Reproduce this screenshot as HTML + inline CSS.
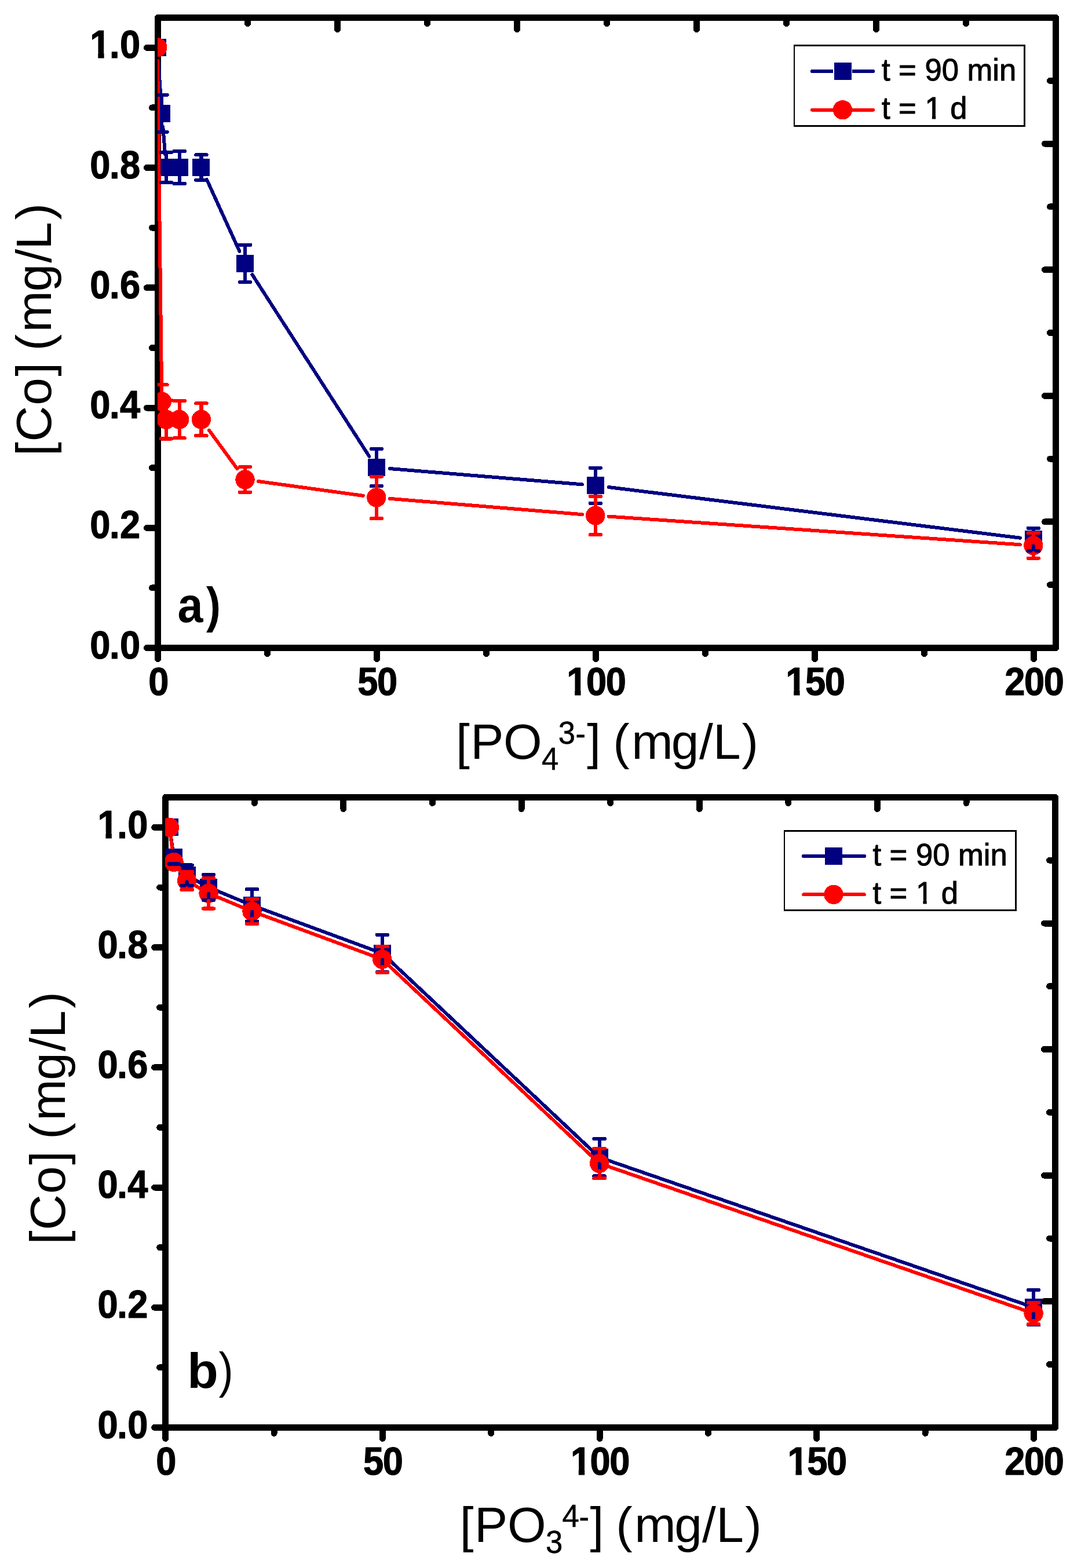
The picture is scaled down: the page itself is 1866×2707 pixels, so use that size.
<!DOCTYPE html>
<html lang="en"><head><meta charset="utf-8"><title>[Co] vs phosphate concentration</title>
<style>html,body{margin:0;padding:0;background:#fff}body{width:1866px;height:2707px;overflow:hidden}svg{display:block}text{white-space:pre}</style>
</head><body>
<svg width="1866" height="2707" viewBox="0 0 1866 2707">
<rect width="1866" height="2707" fill="#fff"/>
<defs>
<clipPath id="one-bold"><rect x="-6.8" y="-68" width="68" height="58.86"/><rect x="14.97" y="-9.74" width="11.13" height="11.34"/></clipPath>
<clipPath id="one-reg"><rect x="-5.26" y="-52.6" width="52.6" height="46.57"/><rect x="12.43" y="-6.63" width="6.25" height="8.13"/></clipPath>
</defs>
<g id="chart-a">
<g fill="none" stroke="#000" stroke-width="11" stroke-linecap="round" stroke-linejoin="round" shape-rendering="crispEdges">
<rect x="272.5" y="30.5" width="1550" height="1088"/>
<path d="M272.5 1118.5v19M650.5 1118.5v19M1028.5 1118.5v19M1406.5 1118.5v19M1784.5 1118.5v19M461.5 1118.5v10M839.5 1118.5v10M1217.5 1118.5v10M1595.5 1118.5v10M272.5 1118.5h-19M272.5 1014.88h-10M272.5 911.26h-19M272.5 807.64h-10M272.5 704.02h-19M272.5 600.4h-10M272.5 496.78h-19M272.5 393.16h-10M272.5 289.54h-19M272.5 185.92h-10M272.5 82.3h-19M272.5 30.5v20M1822.5 30.5h-19M427.5 30.5v10M1822.5 139.3h-10M582.5 30.5v20M1822.5 248.1h-19M737.5 30.5v10M1822.5 356.9h-10M892.5 30.5v20M1822.5 465.7h-19M1047.5 30.5v10M1822.5 574.5h-10M1202.5 30.5v20M1822.5 683.3h-19M1357.5 30.5v10M1822.5 792.1h-10M1512.5 30.5v20M1822.5 900.9h-19M1667.5 30.5v10M1822.5 1009.7h-10M1822.5 30.5v20M1822.5 1118.5h-19"/>
</g>
<clipPath id="clip-a"><rect x="271.9" y="30.5" width="1550.6" height="1088"/></clipPath>
<g clip-path="url(#clip-a)" shape-rendering="crispEdges">
<path d="M273.32 104.75L277.84 172.83M281.22 218.71L285.06 266.12M356.94 309.97L413.46 433.9M435.45 474.17L637.35 787.8M672.72 809.03L1004.88 836.34M1050.63 841.04L1760.97 928.67" fill="none" stroke="#000080" stroke-width="6" stroke-linecap="round" stroke-linejoin="round"/>
<rect x="257" y="67" width="30" height="30" fill="#000080"/>
<rect x="264" y="181" width="30" height="30" fill="#000080"/>
<rect x="272" y="274" width="30" height="30" fill="#000080"/>
<rect x="295" y="274" width="30" height="30" fill="#000080"/>
<rect x="332" y="274" width="30" height="30" fill="#000080"/>
<rect x="408" y="440" width="30" height="30" fill="#000080"/>
<rect x="635" y="792" width="30" height="30" fill="#000080"/>
<rect x="1013" y="823" width="30" height="30" fill="#000080"/>
<rect x="1769" y="916" width="30" height="30" fill="#000080"/>
<path d="M272.08 104.8L279.08 670.16M360.96 742.82L409.44 809.28M445.79 830.99L627.01 855.83M672.72 860.84L1004.88 888.15M1050.75 891.61L1760.85 940.27" fill="none" stroke="#ff0000" stroke-width="6" stroke-linecap="round" stroke-linejoin="round"/>
<circle cx="271.8" cy="81.8" r="16.7" fill="#ff0000"/>
<circle cx="279.36" cy="693.16" r="16.7" fill="#ff0000"/>
<circle cx="286.92" cy="724.24" r="16.7" fill="#ff0000"/>
<circle cx="309.6" cy="724.24" r="16.7" fill="#ff0000"/>
<circle cx="347.4" cy="724.24" r="16.7" fill="#ff0000"/>
<circle cx="423" cy="827.86" r="16.7" fill="#ff0000"/>
<circle cx="649.8" cy="858.95" r="16.7" fill="#ff0000"/>
<circle cx="1027.8" cy="890.04" r="16.7" fill="#ff0000"/>
<circle cx="1783.8" cy="941.85" r="16.7" fill="#ff0000"/>
<path d="M270.16 163.66h18.4M279.36 184.78V163.66M270.16 227.9h18.4M279.36 206.78V227.9M277.72 263.13h18.4M286.92 278.04V263.13M277.72 314.94h18.4M286.92 300.04V314.94M300.4 261.06h18.4M309.6 278.04V261.06M300.4 317.02h18.4M309.6 300.04V317.02M338.2 267.28h18.4M347.4 278.04V267.28M338.2 310.8h18.4M347.4 300.04V310.8M413.8 422.71h18.4M423 443.83V422.71M413.8 486.95h18.4M423 465.83V486.95M640.6 775.02h18.4M649.8 796.14V775.02M640.6 839.26h18.4M649.8 818.14V839.26M1018.6 807.66h18.4M1027.8 827.23V807.66M1018.6 868.79h18.4M1027.8 849.23V868.79M1774.6 911.8h18.4M1783.8 920.48V911.8M1774.6 951.17h18.4M1783.8 942.48V951.17" fill="none" stroke="#000080" stroke-width="6.2" stroke-linecap="round"/>
<path d="M270.16 664.14h18.4M279.36 680.46V664.14M270.16 722.17h18.4M279.36 705.86V722.17M277.72 691.09h18.4M286.92 711.54V691.09M277.72 757.4h18.4M286.92 736.94V757.4M300.4 692.12h18.4M309.6 711.54V692.12M300.4 756.37h18.4M309.6 736.94V756.37M338.2 696.27h18.4M347.4 711.54V696.27M338.2 752.22h18.4M347.4 736.94V752.22M413.8 806.1h18.4M423 815.16V806.1M413.8 849.62h18.4M423 840.56V849.62M640.6 822.68h18.4M649.8 846.25V822.68M640.6 895.22h18.4M649.8 871.65V895.22M1018.6 856.88h18.4M1027.8 877.34V856.88M1018.6 923.19h18.4M1027.8 902.74V923.19M1774.6 920.09h18.4M1783.8 929.15V920.09M1774.6 963.61h18.4M1783.8 954.55V963.61" fill="none" stroke="#ff0000" stroke-width="6.2" stroke-linecap="round"/>
</g>
<g font-family="'Liberation Sans', Arial, Helvetica, sans-serif" font-weight="bold" font-size="68" fill="#000" stroke="#000" stroke-width="1.2" stroke-linejoin="round">
<text transform="translate(256.14 1200.3) scale(0.93 1)" x="0">0</text>
<text transform="translate(617.22 1200.3) scale(0.93 1)" x="0 36.24">50</text>
<text transform="translate(978.29 1200.3) scale(0.93 1)" clip-path="url(#one-bold)">1</text>
<text transform="translate(978.29 1200.3) scale(0.93 1)" x="36.24 72.48">00</text>
<text transform="translate(1356.29 1200.3) scale(0.93 1)" clip-path="url(#one-bold)">1</text>
<text transform="translate(1356.29 1200.3) scale(0.93 1)" x="36.24 72.48">50</text>
<text transform="translate(1734.29 1200.3) scale(0.93 1)" x="0 36.24 72.48">200</text>
<text transform="translate(155.34 1136.6) scale(0.93 1)" x="0 36.24 55.51">0.0</text>
<text transform="translate(155.34 929.36) scale(0.93 1)" x="0 36.24 55.51">0.2</text>
<text transform="translate(155.34 722.12) scale(0.93 1)" x="0 36.24 55.51">0.4</text>
<text transform="translate(155.34 514.88) scale(0.93 1)" x="0 36.24 55.51">0.6</text>
<text transform="translate(155.34 307.64) scale(0.93 1)" x="0 36.24 55.51">0.8</text>
<text transform="translate(155.34 100.4) scale(0.93 1)" clip-path="url(#one-bold)">1</text>
<text transform="translate(155.34 100.4) scale(0.93 1)" x="36.24 55.51">.0</text>
</g>
<g font-family="'Liberation Sans', Arial, Helvetica, sans-serif" font-size="85.7" fill="#000">
<text y="1309.8"><tspan x="786.88 812.16 869.09">[PO</tspan><tspan x="1013.37 1047.73 1058.28 1090.23 1158.78 1207.05 1231.03 1280.48">] (mg/L)</tspan></text>
<text transform="translate(935.06 1328.8) scale(0.95 1)" font-size="55.5" stroke="#000" stroke-width="0.5">4</text>
<text transform="translate(963.74 1283.8) scale(0.95 1)" font-size="55.5" stroke="#000" stroke-width="0.5" x="0 31.4">3<tspan dy="2.4">-</tspan></text>
<text transform="translate(88 0) rotate(-90)" x="-786.97 -762.54 -699.73 -649.63 -615.7 -605.57 -573.57 -503.37 -453.8 -430.77 -379.57">[Co] (mg/L)</text>
</g>
<g font-family="'Liberation Sans', Arial, Helvetica, sans-serif" font-size="85" fill="#000">
<text transform="translate(306.5 1073.9) scale(0.93 1)" font-weight="bold">a</text>
<text transform="translate(356 1073.5) scale(0.88 1)" font-weight="bold">)</text>
</g>
<g shape-rendering="crispEdges">
<rect x="1370" y="77" width="400" height="142" fill="#000"/>
<rect x="1372" y="80" width="395" height="136" fill="#fff"/>
<path d="M1401.9 123H1507" stroke="#000080" stroke-width="6" stroke-linecap="round" fill="none"/>
<rect x="1438" y="108" width="33" height="30" fill="#fff"/>
<rect x="1439.5" y="108" width="30" height="30" fill="#000080"/>
<path d="M1401.9 189.7H1507" stroke="#ff0000" stroke-width="6" stroke-linecap="round" fill="none"/>
<circle cx="1454.5" cy="189.7" r="16.7" fill="#ff0000"/>
</g>
<g font-family="'Liberation Sans', Arial, Helvetica, sans-serif" font-size="52.6" fill="#000" stroke="#000" stroke-width="1" stroke-linejoin="round">
<text transform="translate(1521.9 138.5) scale(1 1.03)">t = 90 min</text>
<text transform="translate(1521.9 204.6) scale(1 1.03)">t = </text>
<text transform="translate(1596.49 204.6) scale(1 1.03)" clip-path="url(#one-reg)">1</text>
<text transform="translate(1625.73 204.6) scale(1 1.03)"> d</text>
</g>
</g>
<g id="chart-b">
<g fill="none" stroke="#000" stroke-width="11" stroke-linecap="round" stroke-linejoin="round" shape-rendering="crispEdges">
<rect x="285.7" y="1376.4" width="1535.9" height="1088"/>
<path d="M285.7 2464.4v19M660.4 2464.4v19M1035.1 2464.4v19M1409.8 2464.4v19M1784.5 2464.4v19M473.05 2464.4v10M847.75 2464.4v10M1222.45 2464.4v10M1597.15 2464.4v10M285.7 2464.4h-19M285.7 2360.8h-10M285.7 2257.2h-19M285.7 2153.6h-10M285.7 2050h-19M285.7 1946.4h-10M285.7 1842.8h-19M285.7 1739.2h-10M285.7 1635.6h-19M285.7 1532h-10M285.7 1428.4h-19M285.7 1376.4v20M1821.6 1376.4h-19M439.29 1376.4v10M1821.6 1485.2h-10M592.88 1376.4v20M1821.6 1594h-19M746.47 1376.4v10M1821.6 1702.8h-10M900.06 1376.4v20M1821.6 1811.6h-19M1053.65 1376.4v10M1821.6 1920.4h-10M1207.24 1376.4v20M1821.6 2029.2h-19M1360.83 1376.4v10M1821.6 2138h-10M1514.42 1376.4v20M1821.6 2246.8h-19M1668.01 1376.4v10M1821.6 2355.6h-10M1821.6 1376.4v20M1821.6 2464.4h-19"/>
</g>
<clipPath id="clip-b"><rect x="285.1" y="1376.4" width="1536.5" height="1088"/></clipPath>
<g clip-path="url(#clip-b)" shape-rendering="crispEdges">
<path d="M292.6 1428.3L300.09 1480.1L322.58 1511.18L360.05 1531.9L435 1562.98L659.85 1645.86L1034.6 1998.1L1784.1 2257.1" fill="none" stroke="#000080" stroke-width="6" stroke-linecap="round" stroke-linejoin="round"/>
<rect x="278" y="1413" width="30" height="30" fill="#000080"/>
<rect x="285" y="1465" width="30" height="30" fill="#000080"/>
<rect x="308" y="1496" width="30" height="30" fill="#000080"/>
<rect x="345" y="1517" width="30" height="30" fill="#000080"/>
<rect x="420" y="1548" width="30" height="30" fill="#000080"/>
<rect x="645" y="1631" width="30" height="30" fill="#000080"/>
<rect x="1020" y="1983" width="30" height="30" fill="#000080"/>
<rect x="1769" y="2242" width="30" height="30" fill="#000080"/>
<path d="M292.6 1428.3L300.09 1488.39L322.58 1520.5L360.05 1542.26L435 1573.34L659.85 1656.22L1034.6 2008.46L1784.1 2267.46" fill="none" stroke="#ff0000" stroke-width="6" stroke-linecap="round" stroke-linejoin="round"/>
<circle cx="292.6" cy="1428.3" r="16.7" fill="#ff0000"/>
<circle cx="300.09" cy="1488.39" r="16.7" fill="#ff0000"/>
<circle cx="322.58" cy="1520.5" r="16.7" fill="#ff0000"/>
<circle cx="360.05" cy="1542.26" r="16.7" fill="#ff0000"/>
<circle cx="435" cy="1573.34" r="16.7" fill="#ff0000"/>
<circle cx="659.85" cy="1656.22" r="16.7" fill="#ff0000"/>
<circle cx="1034.6" cy="2008.46" r="16.7" fill="#ff0000"/>
<circle cx="1784.1" cy="2267.46" r="16.7" fill="#ff0000"/>
<path d="M290.89 1468.7h18.4M300.09 1469.1V1468.7M290.89 1491.5h18.4M300.09 1491.1V1491.5M313.38 1493.57h18.4M322.58 1500.18V1493.57M313.38 1528.79h18.4M322.58 1522.18V1528.79M350.85 1510.14h18.4M360.05 1520.9V1510.14M350.85 1553.66h18.4M360.05 1542.9V1553.66M425.8 1535.32h18.4M435 1551.98V1535.32M425.8 1590.64h18.4M435 1573.98V1590.64M650.65 1613.74h18.4M659.85 1634.86V1613.74M650.65 1677.98h18.4M659.85 1656.86V1677.98M1025.4 1965.98h18.4M1034.6 1987.1V1965.98M1025.4 2030.22h18.4M1034.6 2009.1V2030.22M1774.9 2227.06h18.4M1784.1 2246.1V2227.06M1774.9 2287.14h18.4M1784.1 2268.1V2287.14" fill="none" stroke="#000080" stroke-width="6.2" stroke-linecap="round"/>
<path d="M290.89 1478.03h18.4M290.89 1498.75h18.4M313.38 1504.96h18.4M322.58 1507.8V1504.96M313.38 1536.04h18.4M322.58 1533.2V1536.04M350.85 1515.95h18.4M360.05 1529.56V1515.95M350.85 1568.57h18.4M360.05 1554.96V1568.57M425.8 1551.89h18.4M435 1560.64V1551.89M425.8 1594.79h18.4M435 1586.04V1594.79M650.65 1633.74h18.4M659.85 1643.52V1633.74M650.65 1678.7h18.4M659.85 1668.92V1678.7M1025.4 1982.77h18.4M1034.6 1995.76V1982.77M1025.4 2034.15h18.4M1034.6 2021.16V2034.15M1774.9 2248.81h18.4M1784.1 2254.76V2248.81M1774.9 2286.11h18.4M1784.1 2280.16V2286.11" fill="none" stroke="#ff0000" stroke-width="6.2" stroke-linecap="round"/>
</g>
<g font-family="'Liberation Sans', Arial, Helvetica, sans-serif" font-weight="bold" font-size="68" fill="#000" stroke="#000" stroke-width="1.2" stroke-linejoin="round">
<text transform="translate(269.34 2546.2) scale(0.93 1)" x="0">0</text>
<text transform="translate(627.12 2546.2) scale(0.93 1)" x="0 36.24">50</text>
<text transform="translate(984.89 2546.2) scale(0.93 1)" clip-path="url(#one-bold)">1</text>
<text transform="translate(984.89 2546.2) scale(0.93 1)" x="36.24 72.48">00</text>
<text transform="translate(1359.59 2546.2) scale(0.93 1)" clip-path="url(#one-bold)">1</text>
<text transform="translate(1359.59 2546.2) scale(0.93 1)" x="36.24 72.48">50</text>
<text transform="translate(1734.29 2546.2) scale(0.93 1)" x="0 36.24 72.48">200</text>
<text transform="translate(168.54 2482.5) scale(0.93 1)" x="0 36.24 55.51">0.0</text>
<text transform="translate(168.54 2275.3) scale(0.93 1)" x="0 36.24 55.51">0.2</text>
<text transform="translate(168.54 2068.1) scale(0.93 1)" x="0 36.24 55.51">0.4</text>
<text transform="translate(168.54 1860.9) scale(0.93 1)" x="0 36.24 55.51">0.6</text>
<text transform="translate(168.54 1653.7) scale(0.93 1)" x="0 36.24 55.51">0.8</text>
<text transform="translate(168.54 1446.5) scale(0.93 1)" clip-path="url(#one-bold)">1</text>
<text transform="translate(168.54 1446.5) scale(0.93 1)" x="36.24 55.51">.0</text>
</g>
<g font-family="'Liberation Sans', Arial, Helvetica, sans-serif" font-size="85.7" fill="#000">
<text y="2661.7"><tspan x="793.68 819.06 876.09">[PO</tspan><tspan x="1018.47 1052.75 1063.23 1095.23 1164.23 1212.1 1236.18 1286.13">] (mg/L)</tspan></text>
<text transform="translate(942.04 2680.7) scale(0.95 1)" font-size="55.5" stroke="#000" stroke-width="0.5">3</text>
<text transform="translate(970.61 2635.7) scale(0.95 1)" font-size="55.5" stroke="#000" stroke-width="0.5" x="0 30.49">4<tspan dy="2.4">-</tspan></text>
<text transform="translate(111.8 0) rotate(-90)" x="-2148.27 -2123.84 -2061.03 -2010.93 -1977 -1966.87 -1934.87 -1864.67 -1815.1 -1792.07 -1740.87">[Co] (mg/L)</text>
</g>
<g font-family="'Liberation Sans', Arial, Helvetica, sans-serif" font-size="85" fill="#000">
<text transform="translate(323.3 2395.9) scale(1.03 1)" font-weight="bold">b</text>
<text transform="translate(377.6 2395.4) scale(0.89 1)" font-weight="normal">)</text>
</g>
<g shape-rendering="crispEdges">
<rect x="1353" y="1433" width="402" height="140" fill="#000"/>
<rect x="1355" y="1436" width="397" height="134" fill="#fff"/>
<path d="M1387.1 1478.1H1491.9" stroke="#000080" stroke-width="6" stroke-linecap="round" fill="none"/>
<rect x="1424" y="1463.1" width="30" height="30" fill="#000080"/>
<path d="M1387.1 1544.3H1491.9" stroke="#ff0000" stroke-width="6" stroke-linecap="round" fill="none"/>
<circle cx="1439" cy="1544.3" r="16.7" fill="#ff0000"/>
</g>
<g font-family="'Liberation Sans', Arial, Helvetica, sans-serif" font-size="52.6" fill="#000" stroke="#000" stroke-width="1" stroke-linejoin="round">
<text transform="translate(1506.4 1493.8) scale(1 1.03)">t = 90 min</text>
<text transform="translate(1506.4 1559.8) scale(1 1.03)">t = </text>
<text transform="translate(1580.99 1559.8) scale(1 1.03)" clip-path="url(#one-reg)">1</text>
<text transform="translate(1610.23 1559.8) scale(1 1.03)"> d</text>
</g>
</g>
</svg></body></html>
